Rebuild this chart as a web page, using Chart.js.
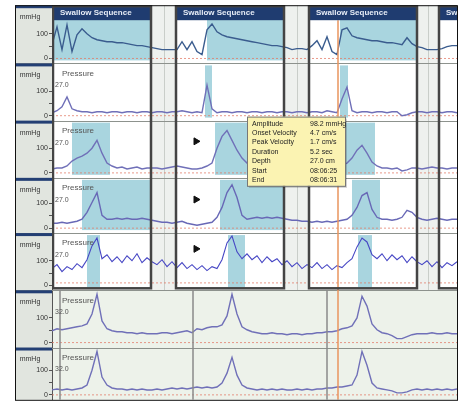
<!DOCTYPE html>
<html>
<head>
<meta charset="utf-8">
<title>Swallow sequence manometry</title>
<script src="https://cdn.jsdelivr.net/npm/chart.js@4.4.1/dist/chart.umd.min.js"></script>
<style>
  html, body { margin: 0; padding: 0; background: #fff; }
  canvas { display: block; }
</style>
</head>
<body>
<canvas id="manometry" width="464" height="405"></canvas>
<script>
// sample times, seconds
const times = [0,0.4,0.8,1.2,1.6,2,2.4,2.8,3.2,3.6, 4,4.4,4.8,5.2,5.6,6,6.4,6.8,7.2,7.6,
  8,8.4,8.8,9.2,9.6,10,10.4,10.8,11.2,11.6, 12,12.4,12.8,13.2,13.6,14,14.4,14.8,15.2,15.6,
  16,16.4,16.8,17.2,17.6,18,18.4,18.8,19.2,19.6, 20,20.4,20.8,21.2,21.6,22,22.4,22.8,23.2,23.6,
  24,24.4,24.8,25.2,25.6,26,26.4,26.8,27.2,27.6, 28,28.4,28.8,29.2,29.6,30,30.4,30.8,31.2,31.6, 32,32.4];

// pressure per channel, mmHg (top channel first)
const swallowChannel = [56,128,36,136,28,96,120,100,84,76, 72,68,68,64,64,60,56,52,52,48,
  44,40,36,36,36,36,68,36,68,28, 16,116,140,108,96,88,84,80,76,72, 68,64,60,56,52,52,48,44,36,40,
  40,36,52,72,36,88,28,16,116,124, 92,84,80,76,72,72,68,64,64,60, 56,84,60,48,44,36,36,36,40,48, 52,52];
const pressure2 = [12,20,36,76,28,20,16,16,12,16, 16,12,16,16,12,16,16,12,16,16,
  12,16,16,12,16,16,20,16,12,16, 12,124,28,12,16,16,12,16,16,12, 16,16,12,16,16,12,16,16,12,16,
  16,12,16,16,12,20,16,12,68,116, 20,12,16,16,12,16,16,12,16,16, 0,4,12,16,16,12,16,16,12,16, 16,12];
const pressure3 = [16,20,20,28,48,60,68,80,100,132, 80,40,28,20,24,16,20,24,16,20,
  20,20,16,20,24,28,24,20,16,16, 20,28,40,100,148,172,132,92,60,40, 32,28,24,24,20,20,24,20,16,20,
  20,24,20,28,20,24,20,28,32,40, 60,92,112,80,44,28,20,20,16,20, 8,12,20,20,16,20,24,20,20,16, 20,20];
const pressure4 = [20,20,24,20,24,28,36,64,104,144, 52,36,36,40,36,40,36,36,40,36,
  32,28,24,24,20,24,28,20,16,12, 16,20,24,44,84,144,176,124,52,36, 40,44,40,44,40,44,40,36,32,32,
  28,28,24,28,24,28,24,28,32,36, 52,84,132,144,76,44,36,36,32,36, 44,72,64,44,36,32,36,40,36,32, 36,36];
const pressure5 = [68,84,56,76,64,88,72,104,160,192, 108,124,96,116,92,120,100,128,92,112,
  96,84,104,76,96,72,92,68,84,64, 80,60,76,68,104,172,200,136,108,128, 104,120,92,116,96,108,84,100,76,92,
  68,84,72,92,68,84,64,80,72,92, 108,156,192,176,124,108,128,100,124,104, 120,92,116,96,84,100,76,96,72,92, 80,96];
const pressure6 = [48,56,52,56,60,64,68,76,116,196, 88,56,48,44,44,40,40,36,40,36,
  36,36,40,40,36,40,44,48,40,56, 52,60,64,64,72,108,196,116,64,52, 44,40,36,36,40,36,36,32,36,36,
  32,36,36,40,40,44,44,48,56,60, 68,100,188,148,76,52,40,36,28,16, 16,24,32,36,36,36,40,36,36,40, 36,36];
const pressure7 = [20,24,20,24,20,24,28,40,100,176, 72,40,28,24,24,20,24,20,24,20,
  20,24,20,24,28,24,28,24,28,32, 28,32,28,32,48,88,152,80,40,28, 24,20,24,20,24,20,24,20,20,24,
  20,24,20,24,24,28,28,32,32,36, 40,80,176,120,48,28,24,20,16,8, 8,12,20,24,20,24,20,24,20,24, 20,24];

const channels = [swallowChannel, pressure2, pressure3, pressure4, pressure5, pressure6, pressure7];
const thresholds = [0, 0, 0, 0, 10, 0, 0];
const tickValues = [0, 50, 100];
const labelledTicks = [0, 100];

// swallow sequences [start, end] in seconds
const swallowBoxes = [[0, 8], [9.84, 18.64], [20.48, 29.28], [30.88, 40]];
// detected wave windows [channel, start, end]
const waveWindows = [
  [1, 0, 8], [1, 12.4, 18.64], [1, 23.04, 29.28],
  [2, 12.24, 12.8], [2, 23.04, 23.68],
  [3, 1.6, 4.64], [3, 13.04, 18.64], [3, 23.44, 25.84],
  [4, 2.4, 8], [4, 13.44, 18.64], [4, 24, 26.24],
  [5, 2.8, 3.84], [5, 14.08, 15.44], [5, 24.48, 25.6]
];
const markerTime = 11.52;
const markerChannels = [3, 4, 5];
const markerLevels = [128, 116, 148];
const eventTimes = [0.64, 11.28, 22.0];
const cursorTime = 22.88;

const statLabels = ['Amplitude', 'Onset Velocity', 'Peak Velocity', 'Duration', 'Depth', 'Start', 'End'];
const statValues = ['98.2 mmHg', '4.7 cm/s', '1.7 cm/s', '5.2 sec', '27.0 cm', '08:06:25', '08:06:31'];
const statSpan = [15.6, 23.44];

const rowIds = ['r1', 'r2', 'r3', 'r4', 'r5', 'r6', 'r7'];
const rowHeights = [59, 58, 58, 56, 58, 58, 53];
const traceColors = ['#3a5c8e', '#7070b8', '#7070b8', '#6868b6', '#4646c4', '#7070b8', '#7070b8'];
const FONT = "'Liberation Sans', Arial, sans-serif";

Chart.defaults.font.family = FONT;

const datasets = [];
channels.forEach((vals, i) => {
  datasets.push({
    data: times.map((t, k) => ({ x: t, y: vals[k] })),
    yAxisID: rowIds[i],
    borderColor: traceColors[i],
    borderWidth: i === 4 ? 1.1 : 1.4,
    pointRadius: 0,
    tension: 0
  });
  datasets.push({
    data: [{ x: times[0], y: thresholds[i] }, { x: times[times.length - 1], y: thresholds[i] }],
    yAxisID: rowIds[i],
    borderColor: 'rgba(226,120,100,0.75)',
    borderWidth: 1,
    borderDash: [2, 2],
    pointRadius: 0
  });
});
markerChannels.forEach((c, i) => {
  datasets.push({
    data: [{ x: markerTime, y: markerLevels[i] }],
    yAxisID: rowIds[c - 1],
    showLine: false,
    pointStyle: 'triangle',
    rotation: 90,
    pointRadius: 4,
    backgroundColor: '#111',
    borderColor: '#111'
  });
});

const scales = {
  x: { type: 'linear', min: times[0], max: times[times.length - 1], display: false }
};
rowIds.forEach((id, i) => {
  scales[id] = {
    type: 'linear',
    position: 'left',
    stack: 'rows',
    stackWeight: rowHeights[i],
    weight: rowIds.length - i,
    min: -20,
    max: rowHeights[i] * 4 - 20,
    afterFit: s => { s.width = 37; },
    afterBuildTicks: s => { s.ticks = tickValues.map(v => ({ value: v })); },
    grid: { drawOnChartArea: false, drawTicks: true, tickLength: 3, color: '#555' },
    border: { display: true, color: '#555' },
    ticks: {
      font: { size: 7 }, color: '#333', padding: 1,
      callback: v => labelledTicks.includes(v) ? String(v) : ''
    }
  };
});

const decor = {
  id: 'decor',
  beforeDraw(chart) {
    const { ctx, chartArea: ca, scales: sc } = chart;
    const x = sc.x;
    const rows = rowIds.map(id => sc[id]);
    const r5 = rows[4];
    ctx.save();
    ctx.fillStyle = '#e1e5df';
    ctx.fillRect(15, ca.top, ca.left - 15, ca.bottom - ca.top);
    ctx.beginPath();
    ctx.rect(ca.left, ca.top, ca.right - ca.left, ca.bottom - ca.top);
    ctx.clip();
    ctx.fillStyle = '#eef1ee';
    ctx.fillRect(ca.left, ca.top, ca.right - ca.left, r5.bottom - ca.top);
    ctx.fillStyle = '#edf2ea';
    ctx.fillRect(ca.left, r5.bottom, ca.right - ca.left, ca.bottom - r5.bottom);
    ctx.fillStyle = '#ffffff';
    swallowBoxes.forEach(([a, b]) => {
      const xa = x.getPixelForValue(a), xb = x.getPixelForValue(b);
      ctx.fillRect(xa, ca.top, xb - xa, r5.bottom - ca.top);
    });
    ctx.fillStyle = '#a9d5df';
    waveWindows.forEach(([r, a, b]) => {
      const s = rows[r - 1];
      const xa = x.getPixelForValue(a), xb = x.getPixelForValue(b);
      ctx.fillRect(xa, s.top + 2, xb - xa, s.bottom - s.top - 5);
    });
    // faint guides between sequences
    ctx.strokeStyle = '#c9cec9';
    ctx.lineWidth = 1;
    for (let k = 0; k < swallowBoxes.length - 1; k++) {
      const xm = Math.round(x.getPixelForValue((swallowBoxes[k][1] + swallowBoxes[k + 1][0]) / 2)) + 0.5;
      ctx.beginPath(); ctx.moveTo(xm, ca.top); ctx.lineTo(xm, r5.bottom); ctx.stroke();
    }
    ctx.restore();
  },
  afterDatasetsDraw(chart) {
    const { ctx, chartArea: ca, scales: sc } = chart;
    const x = sc.x;
    const rows = rowIds.map(id => sc[id]);
    const r5 = rows[4];
    ctx.save();

    // row separators
    ctx.strokeStyle = '#8d928d';
    ctx.lineWidth = 1;
    rows.slice(0, -1).forEach(s => {
      const y = Math.round(s.bottom) + 0.5;
      ctx.beginPath(); ctx.moveTo(15, y); ctx.lineTo(ca.right, y); ctx.stroke();
    });

    // left panel: navy bars and unit text
    rows.forEach(s => {
      ctx.fillStyle = '#233f74';
      ctx.fillRect(15, s.top, ca.left - 15, 3);
      ctx.fillStyle = '#333';
      ctx.font = '7px ' + FONT;
      ctx.textAlign = 'center';
      ctx.textBaseline = 'middle';
      ctx.fillText('mmHg', 30, s.top + 12);
    });

    ctx.beginPath();
    ctx.rect(ca.left, ca.top, ca.right - ca.left, ca.bottom - ca.top);
    ctx.clip();

    // event lines in the lower channels
    ctx.strokeStyle = '#8a8a8a';
    ctx.lineWidth = 1.5;
    eventTimes.forEach(t => {
      const xe = x.getPixelForValue(t);
      ctx.beginPath(); ctx.moveTo(xe, r5.bottom); ctx.lineTo(xe, ca.bottom); ctx.stroke();
    });

    // cursor
    const xc = x.getPixelForValue(cursorTime);
    ctx.strokeStyle = '#e8955e';
    ctx.lineWidth = 1.5;
    ctx.beginPath(); ctx.moveTo(xc, ca.top + 15); ctx.lineTo(xc, ca.bottom); ctx.stroke();

    // swallow sequence frames
    swallowBoxes.forEach(([a, b]) => {
      const xa = x.getPixelForValue(a), xb = x.getPixelForValue(b);
      ctx.fillStyle = '#1f3c70';
      ctx.fillRect(xa, ca.top, xb - xa, 15);
      ctx.strokeStyle = '#444';
      ctx.lineWidth = 2.5;
      ctx.strokeRect(xa + 1, ca.top + 1, xb - xa - 2, r5.bottom - ca.top - 3);
      ctx.fillStyle = '#e6ecf6';
      ctx.font = 'bold 8px ' + FONT;
      ctx.textAlign = 'left';
      ctx.textBaseline = 'middle';
      ctx.fillText('Swallow Sequence', xa + 8, ca.top + 8);
    });

    // channel captions
    ctx.textAlign = 'left';
    ctx.textBaseline = 'middle';
    rows.forEach((s, i) => {
      if (i === 0) return;
      ctx.fillStyle = '#555';
      ctx.font = '8px ' + FONT;
      ctx.fillText('Pressure', ca.left + 10, s.top + 10);
      ctx.font = '7px ' + FONT;
      ctx.fillText(i < 5 ? '27.0' : '32.0', ca.left + 3, s.top + 22);
    });
    ctx.restore();

    // stats box
    ctx.save();
    const r3 = rows[2], r4 = rows[3];
    const bx = x.getPixelForValue(statSpan[0]), bw = x.getPixelForValue(statSpan[1]) - bx;
    const by = r3.top - 4, bh = r4.top + 8 - by;
    ctx.fillStyle = 'rgba(0,0,0,0.18)';
    ctx.fillRect(bx + 2, by + 2, bw, bh);
    ctx.fillStyle = '#fbf3b2';
    ctx.fillRect(bx, by, bw, bh);
    ctx.strokeStyle = '#777';
    ctx.lineWidth = 1;
    ctx.strokeRect(bx + 0.5, by + 0.5, bw, bh);
    ctx.fillStyle = '#222';
    ctx.font = '7px ' + FONT;
    ctx.textBaseline = 'middle';
    ctx.textAlign = 'left';
    statLabels.forEach((lab, k) => {
      const y = by + 7 + k * 9.4;
      ctx.fillText(lab, bx + 5, y);
      ctx.fillText(statValues[k], bx + 63, y);
    });

    // outer frame
    ctx.strokeStyle = '#111';
    ctx.lineWidth = 1;
    ctx.strokeRect(15.5, ca.top + 0.5, ca.right - 15, ca.bottom - ca.top);
    ctx.restore();
  }
};

new Chart(document.getElementById('manometry'), {
  type: 'line',
  data: { datasets },
  options: {
    responsive: false,
    animation: false,
    events: [],
    devicePixelRatio: 1,
    layout: { padding: { left: 15, top: 5, right: 7, bottom: 0 } },
    plugins: { legend: { display: false }, tooltip: { enabled: false } },
    scales
  },
  plugins: [decor]
});
</script>
</body>
</html>
